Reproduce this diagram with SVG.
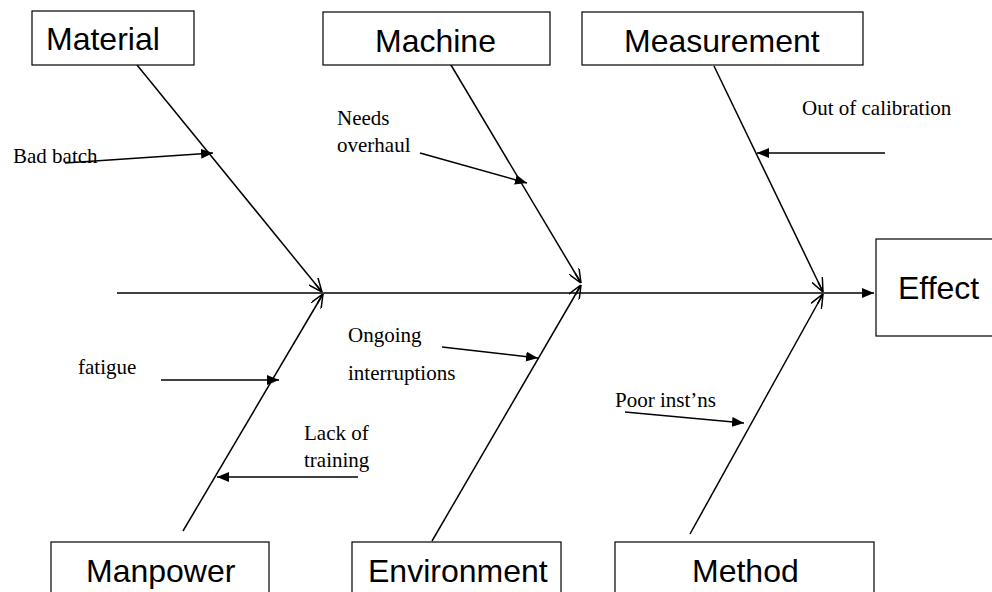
<svg xmlns="http://www.w3.org/2000/svg" width="992" height="592" viewBox="0 0 992 592">
<style>
.box{fill:#fff;stroke:#000;stroke-width:1.2}
.bt{font-family:"Liberation Sans",Arial,sans-serif;font-size:32px;fill:#000}
.lt{font-family:"Liberation Serif","Times New Roman",serif;font-size:21px;fill:#000}
.bone{stroke:#000;stroke-width:1.5;fill:none;marker-end:url(#open)}
.cause{stroke:#000;stroke-width:1.5;fill:none;marker-end:url(#solid)}
</style>
<defs>
<marker id="solid" viewBox="0 0 12 10" refX="12" refY="5" markerWidth="12" markerHeight="10" markerUnits="userSpaceOnUse" orient="auto">
<path d="M0,0 L12,5 L0,10 Z" fill="#000"/>
</marker>
<marker id="open" viewBox="0 0 14 12" refX="14" refY="6" markerWidth="14" markerHeight="12" markerUnits="userSpaceOnUse" orient="auto">
<path d="M0,0 L14,6 L0,12 M14,6 L3,6" fill="none" stroke="#000" stroke-width="1.5"/>
</marker>
</defs>
<g id="connectors">
<line class="cause" x1="117" y1="293" x2="874" y2="293"/>
<line class="bone" x1="137" y1="65" x2="322" y2="292"/>
<line class="bone" x1="448" y1="60" x2="581" y2="283"/>
<line class="bone" x1="714" y1="66" x2="823" y2="292"/>
<line class="bone" x1="183" y1="531" x2="323" y2="294"/>
<line class="bone" x1="432" y1="541" x2="581" y2="285"/>
<line class="bone" x1="690" y1="534" x2="823" y2="294"/>
<line class="cause" x1="65" y1="163" x2="213" y2="153"/>
<line class="cause" x1="420" y1="153" x2="527" y2="183"/>
<line class="cause" x1="885" y1="153" x2="757" y2="153"/>
<line class="cause" x1="161" y1="380" x2="279" y2="380"/>
<line class="cause" x1="358" y1="477" x2="217" y2="477"/>
<line class="cause" x1="442" y1="347" x2="538" y2="358"/>
<line class="cause" x1="625" y1="412" x2="744" y2="423"/>
</g>
<g id="material"><rect class="box" x="32" y="11" width="162" height="54"/><text class="bt" x="46" y="50">Material</text></g>
<g id="machine"><rect class="box" x="323" y="12" width="227" height="53"/><text class="bt" x="375" y="52">Machine</text></g>
<g id="measurement"><rect class="box" x="582" y="12" width="281" height="53"/><text class="bt" x="624" y="52">Measurement</text></g>
<g id="effect"><rect class="box" x="876" y="239" width="120" height="97"/><text class="bt" x="898" y="299">Effect</text></g>
<g id="manpower"><rect class="box" x="51" y="542" width="218" height="60"/><text class="bt" x="86" y="582">Manpower</text></g>
<g id="environment"><rect class="box" x="352" y="542" width="209" height="60"/><text class="bt" x="368" y="582">Environment</text></g>
<g id="method"><rect class="box" x="615" y="542" width="259" height="60"/><text class="bt" x="692" y="582">Method</text></g>
<g id="labels">
<text class="lt" x="13" y="163">Bad batch</text>
<text class="lt" x="337" y="125">Needs</text>
<text class="lt" x="337" y="152">overhaul</text>
<text class="lt" x="802" y="115">Out of calibration</text>
<text class="lt" x="78" y="374">fatigue</text>
<text class="lt" x="304" y="440">Lack of</text>
<text class="lt" x="304" y="467">training</text>
<text class="lt" x="348" y="342">Ongoing</text>
<text class="lt" x="348" y="380">interruptions</text>
<text class="lt" x="615" y="407">Poor inst’ns</text>
</g>
</svg>
